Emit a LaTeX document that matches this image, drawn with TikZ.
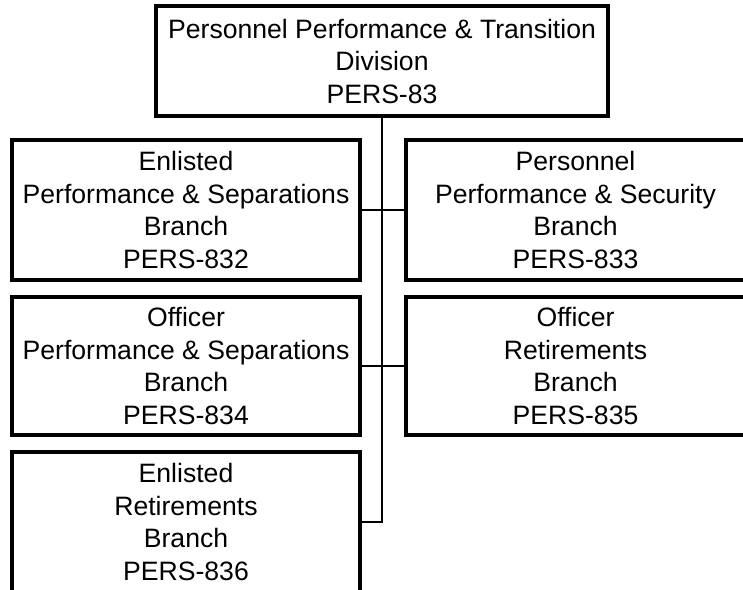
\documentclass[tikz,border=0pt]{standalone}
\usepackage{fontspec}
\setmainfont{Liberation Sans}
\begin{document}
\begin{tikzpicture}[x=1pt, y=-1pt,
    every node/.style={font=\fontsize{26.6}{32.5}\selectfont},
    unitbox/.style={draw, line width=3.3pt, align=center, inner sep=0pt},
    leftbox/.style={unitbox, minimum width=348pt, minimum height=138pt},
    rightbox/.style={unitbox, minimum width=339pt, minimum height=138pt},
    conn/.style={line width=1.5pt}]
    % Page frame (boxes run past the right and bottom edges)
    \useasboundingbox (0,0) rectangle (743,589);
    \clip (0,0) rectangle (743,589);

    % Division at the top
    \node[unitbox, minimum width=452pt, minimum height=110pt] (div) at (382,61)
        {Personnel Performance \& Transition\\Division\\PERS-83};

    % Branches on the left
    \node[leftbox, minimum height=140pt] (epsb) at (186,210)
        {Enlisted\\Performance \& Separations\\Branch\\PERS-832};
    \node[leftbox] (opsb) at (186,366)
        {Officer\\Performance \& Separations\\Branch\\PERS-834};
    \node[leftbox, minimum height=140pt] (erb) at (186,522)
        {Enlisted\\Retirements\\Branch\\PERS-836};

    % Branches on the right
    \node[rightbox, minimum height=140pt] (ppsb) at (575.5,210)
        {Personnel\\Performance \& Security\\Branch\\PERS-833};
    \node[rightbox] (orb) at (575.5,366)
        {Officer\\Retirements\\Branch\\PERS-835};

    % Connectors
    \draw[conn] (div.south) |- (erb.east);
    \draw[conn] (epsb.east) -- (ppsb.west);
    \draw[conn] (opsb.east) -- (orb.west);
\end{tikzpicture}
\end{document}
